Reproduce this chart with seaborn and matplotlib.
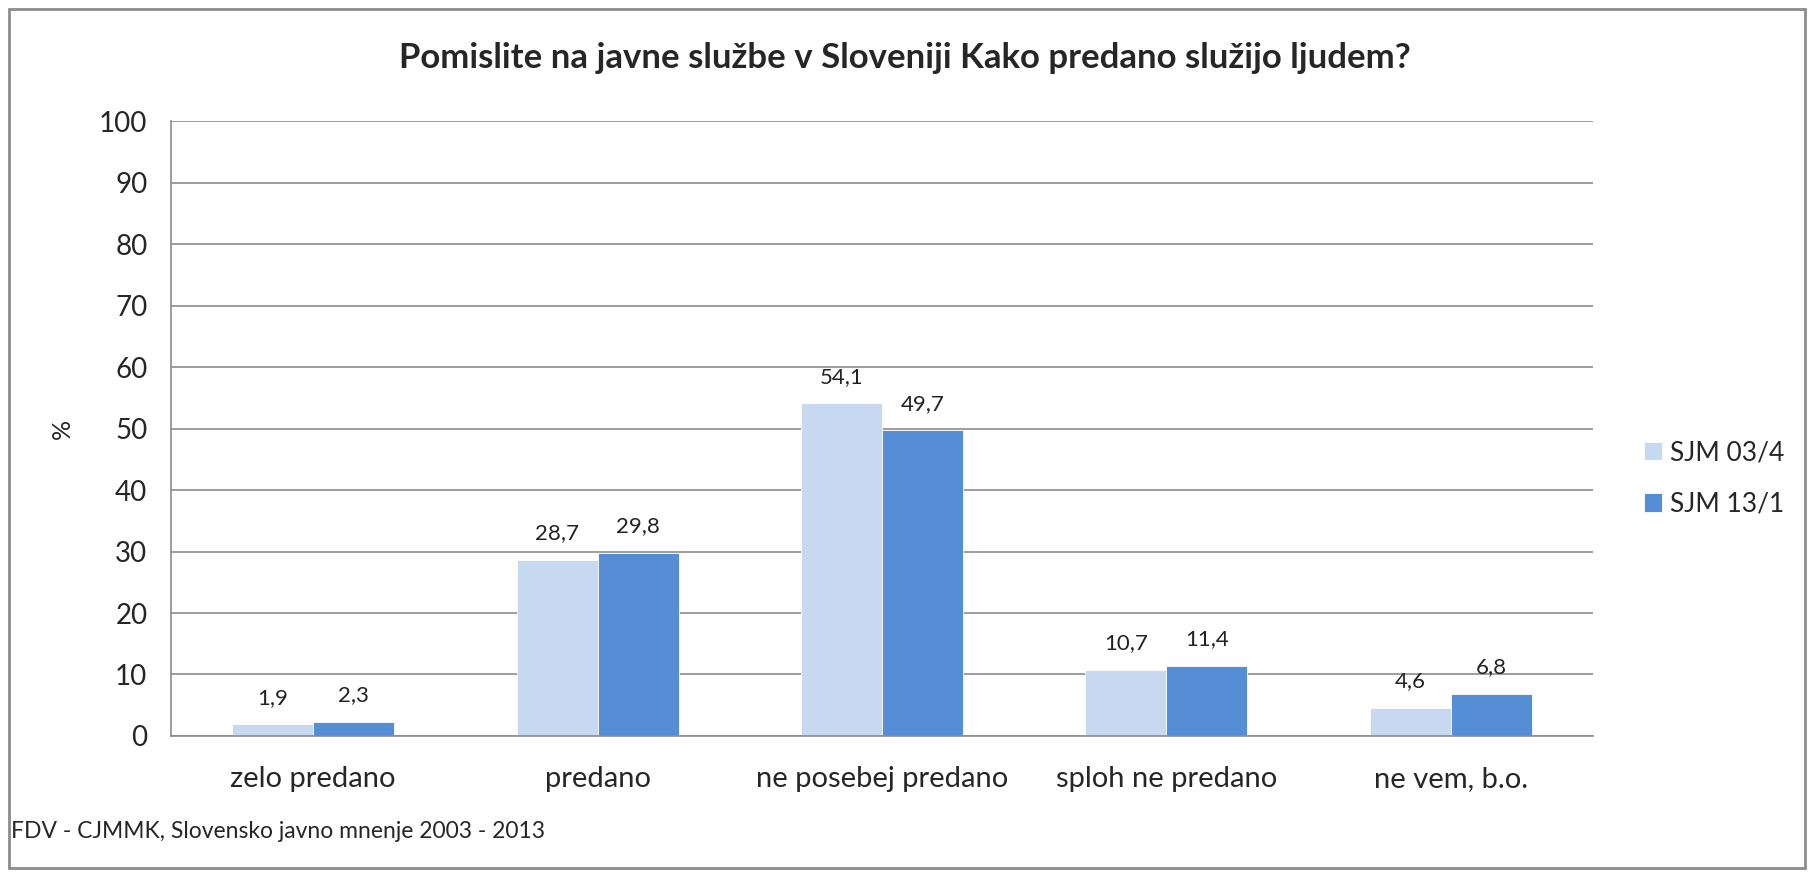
import seaborn as sns
import matplotlib.pyplot as plt
import pandas as pd
from matplotlib.patches import Rectangle

categories = ['zelo predano', 'predano', 'ne posebej predano', 'sploh ne predano', 'ne vem, b.o.']
series = ['SJM 03/4', 'SJM 13/1']
sjm_03 = [1.9, 28.7, 54.1, 10.7, 4.6]
sjm_13 = [2.3, 29.8, 49.7, 11.4, 6.8]
colors = ['#C6D9F1', '#558ED5']

df = pd.DataFrame({
    'kategorija': categories * 2,
    'serija': [series[0]] * len(categories) + [series[1]] * len(categories),
    'vrednost': sjm_03 + sjm_13,
})

sns.set_style('white')
plt.rcParams['font.family'] = ['Lato', 'DejaVu Sans']

fig = plt.figure(figsize=(18.1, 8.73), dpi=100)
ax = fig.add_axes([0.0945, 0.157, 0.7855, 0.704])

sns.barplot(data=df, x='kategorija', y='vrednost', hue='serija', order=categories,
            hue_order=series, palette=colors, width=0.57, gap=0, saturation=1,
            edgecolor='white', linewidth=0.6, ax=ax)

# data labels with decimal comma
for cont in ax.containers:
    ax.bar_label(cont, labels=[f'{v:.1f}'.replace('.', ',') for v in cont.datavalues],
                 padding=12, fontsize=16, color='#222222')

ax.set_ylim(0, 100)
ax.set_yticks(range(0, 101, 10))
ax.set_xlim(-0.5, len(categories) - 0.5)
ax.yaxis.grid(True, color='#8C8C8C', linewidth=1.2)
ax.set_axisbelow(True)
for side in ['top', 'right']:
    ax.spines[side].set_visible(False)
ax.spines['left'].set_color('#8C8C8C')
ax.spines['bottom'].set_color('#8C8C8C')
ax.spines['left'].set_linewidth(1.2)
ax.spines['bottom'].set_linewidth(1.2)
ax.tick_params(axis='y', length=9, width=1.2, color='#8C8C8C', labelsize=20, pad=8)
ax.tick_params(axis='x', length=0, labelsize=21, pad=22)
ax.set_xlabel('')
ax.set_ylabel('%', fontsize=18, labelpad=18)

ax.legend(handles=ax.get_legend_handles_labels()[0], labels=series, loc='center left',
          bbox_to_anchor=(0.895, 0.452), bbox_transform=fig.transFigure, frameon=False,
          fontsize=19, handlelength=0.7, handleheight=0.7, handletextpad=0.3, labelspacing=1.0)

fig.text(0.5, 0.934, 'Pomislite na javne službe v Sloveniji Kako predano služijo ljudem?',
         ha='center', va='center', fontsize=25, fontweight='bold')
fig.text(0.006, 0.048, 'FDV - CJMMK, Slovensko javno mnenje 2003 - 2013',
         ha='left', va='center', fontsize=16.5)

# outer chart border
fig.patches.append(Rectangle((0.005, 0.006), 0.992, 0.984, transform=fig.transFigure,
                             fill=False, edgecolor='#8C8C8C', linewidth=2))

fig.savefig('out.png', dpi=100)
